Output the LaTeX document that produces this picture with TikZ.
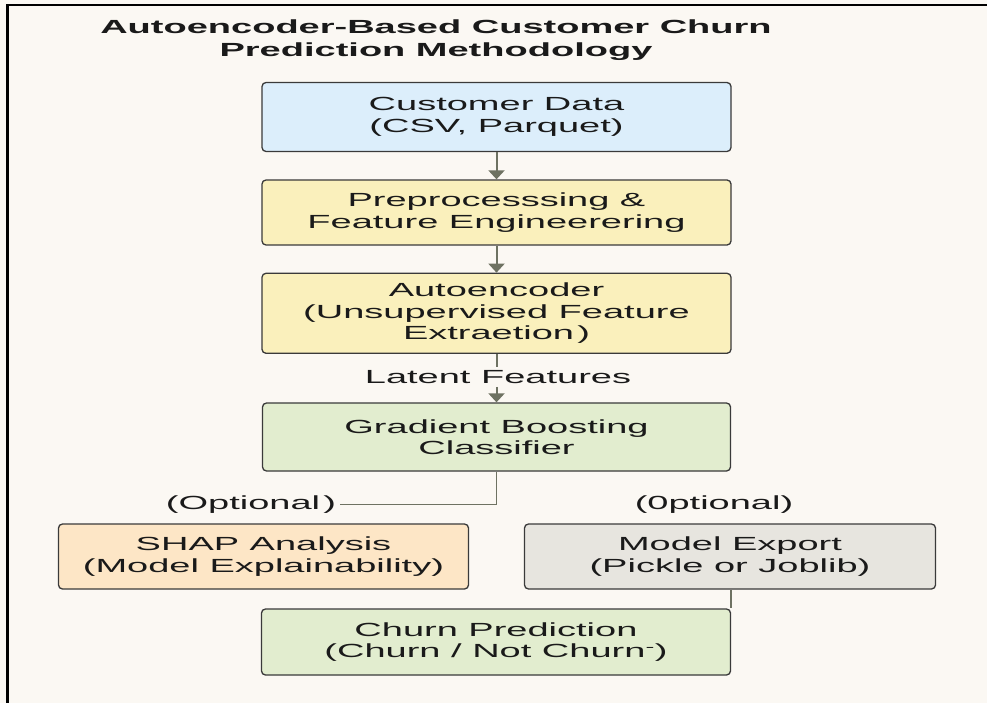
\documentclass[tikz,border=0pt]{standalone}
\usepackage{fontspec}
\setmainfont{Liberation Sans}[FakeStretch=2.0]
\usetikzlibrary{arrows.meta}
\definecolor{bg}{HTML}{FBF8F3}
\definecolor{cblue}{HTML}{DCEEFB}
\definecolor{cyellow}{HTML}{FAF0BC}
\definecolor{cgreen}{HTML}{E2EDCF}
\definecolor{corange}{HTML}{FDE6C6}
\definecolor{cgray}{HTML}{E7E5DF}
\definecolor{edge}{HTML}{3A3A3A}
\definecolor{arr}{HTML}{6E7262}
\definecolor{txt}{HTML}{1A1A1A}
\tikzset{
  stepbox/.style={draw=edge, line width=1.3pt, rounded corners=4pt, align=center,
    inner sep=0pt, text=txt, font=\fontsize{19}{21.5}\selectfont},
  lbl/.style={text=txt, font=\fontsize{19}{21.5}\selectfont, inner sep=3pt},
  ttl/.style={text=txt, font=\fontsize{19}{23}\selectfont\bfseries, inner sep=0pt},
  conn/.style={draw=arr, line width=2pt},
  arrowconn/.style={conn, -{Triangle[width=16pt,length=9pt]}},
}
\begin{document}
\begin{tikzpicture}[x=1pt,y=-1pt]
\useasboundingbox (0,0) rectangle (987,703);
\fill[bg] (-10,-10) rectangle (997,713);
\draw[black,line width=2.5pt] (7.5,713) -- (7.5,5) -- (997,5);

\node[ttl, anchor=base] (t1) at (436,33.5) {Autoencoder-Based Customer Churn};
\node[ttl, anchor=base] (t2) at (436,57) {Prediction Methodology};

\node[stepbox, fill=cblue, minimum width=469pt, minimum height=69pt] (cd) at (496.5,117) {Customer Data\\(CSV, Parquet)};
\node[stepbox, fill=cyellow, minimum width=469pt, minimum height=65pt] (pre) at (496.5,212.5) {Preprocesssing \&\\Feature Engineerering};
\node[stepbox, fill=cyellow, minimum width=469pt, minimum height=80pt] (ae) at (496.5,313.3) {Autoencoder\\(Unsupervised Feature\\Extraetion\,)};
\node[lbl, anchor=base] (lat) at (498,383.5) {Latent Features};
\node[stepbox, fill=cgreen, minimum width=468pt, minimum height=68pt] (gbc) at (496.5,437) {Gradient Boosting\\Classifier};
\node[lbl, anchor=base, inner sep=4pt] (opt1) at (251,509.5) {(Optional\,)};
\node[lbl, anchor=base] (opt2) at (714,509.5) {(0ptional)};
\node[stepbox, fill=corange, minimum width=410pt, minimum height=65pt] (shap) at (263.5,556.5) {SHAP Analysis\\(Model Explainability)};
\node[stepbox, fill=cgray, minimum width=411pt, minimum height=65pt] (mexp) at (730,556.5) {Model Export\\(Pickle or Joblib)};
\node[stepbox, fill=cgreen, minimum width=469pt, minimum height=66pt] (churn) at (496,642) {Churn Prediction\\(Churn / Not Churn\textsuperscript{-})};

\draw[arrowconn] (cd.south) -- (pre.north);
\draw[arrowconn] (pre.south) -- (ae.north);
\draw[conn] (ae.south) -- (ae.south |- lat.north);
\draw[arrowconn] (gbc.north |- lat.south) -- (gbc.north);
\draw[conn, line width=1.6pt] (gbc.south) |- (opt1.east);
\coordinate (mx) at (731,589);
\draw[conn, line width=1.6pt] (mexp.south -| mx) -- (churn.north east -| mx);
\end{tikzpicture}
\end{document}
